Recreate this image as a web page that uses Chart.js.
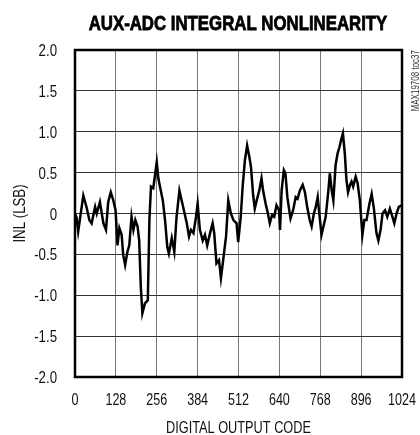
<!DOCTYPE html>
<html>
<head>
<meta charset="utf-8">
<script src="https://cdn.jsdelivr.net/npm/chart.js@4.4.1/dist/chart.umd.min.js"></script>
<style>
  body { margin: 0; background: #fff; }
  #wrap { width: 420px; height: 435px; }
</style>
</head>
<body>
<div id="wrap"><canvas id="grafico" width="420" height="435"></canvas></div>
<script>
// valores (codigo digital -> INL em LSB)
const codigos = [0, 5, 10, 26, 36, 45, 52, 63, 68, 78, 83, 89, 97, 104, 112, 120, 127, 133, 139, 146, 151, 157,
  164, 170, 177, 183, 189, 196, 201, 206, 211, 219, 228, 233, 238, 245, 250, 256, 261, 266, 275, 282, 289,
  294, 303, 311, 318, 327, 334, 341, 350, 357, 363, 371, 379, 384, 391, 400, 407, 414, 423, 431, 436, 443,
  451, 457, 464, 473, 480, 488, 496, 506, 511, 519, 525, 532, 539, 546, 551, 558, 563, 569, 577, 584, 589,
  597, 603, 610, 617, 624, 631, 639, 642, 647, 654, 659, 665, 671, 675, 683, 691, 697, 704, 713, 720, 728,
  735, 741, 748, 754, 760, 765, 772, 778, 785, 793, 798, 804, 809, 816, 822, 828, 834, 839, 845, 850, 855,
  861, 866, 871, 879, 885, 892, 900, 906, 913, 922, 929, 936, 944, 950, 957, 963, 971, 978, 986, 994, 1000,
  1007, 1014, 1023];
const inl = [0.0, -0.05, -0.22, 0.22, 0.08, -0.08, -0.12, 0.08, 0.0, 0.14, 0.02, -0.12, -0.2, 0.14, 0.26, 0.16,
  0.04, -0.39, -0.18, -0.26, -0.51, -0.63, -0.47, -0.39, -0.04, -0.2, -0.08, -0.16, -0.33, -0.89, -1.22,
  -1.1, -1.06, -0.08, 0.33, 0.31, 0.45, 0.63, 0.43, 0.33, 0.16, -0.08, -0.41, -0.49, -0.3, -0.47, -0.04,
  0.28, 0.16, 0.04, -0.12, -0.28, -0.2, -0.24, -0.04, 0.12, -0.2, -0.33, -0.26, -0.39, -0.24, -0.12,
  -0.24, -0.61, -0.57, -0.79, -0.57, -0.28, 0.16, 0.0, -0.08, -0.12, -0.35, -0.04, 0.33, 0.65, 0.83,
  0.69, 0.57, 0.22, 0.06, 0.16, 0.28, 0.43, 0.28, 0.12, 0.02, -0.12, -0.02, -0.04, 0.1, 0.04, -0.2,
  0.28, 0.53, 0.49, 0.2, 0.04, -0.06, 0.04, 0.2, 0.18, 0.28, 0.35, 0.26, 0.06, -0.08, -0.16, 0.0, 0.08,
  0.2, 0.0, -0.26, -0.16, -0.04, 0.26, 0.49, 0.28, 0.16, 0.59, 0.73, 0.81, 0.91, 0.98, 0.73, 0.41, 0.26,
  0.35, 0.39, 0.33, 0.45, 0.37, 0.16, -0.26, -0.08, -0.08, 0.12, 0.24, 0.06, -0.24, -0.33, -0.2, 0.0,
  0.04, -0.04, 0.06, -0.04, -0.12, 0.0, 0.08, 0.1];
const ticksX = [0, 128, 256, 384, 512, 640, 768, 896, 1024];
const ticksY = [-2, -1.5, -1, -0.5, 0, 0.5, 1, 1.5, 2];
const rotulosX = ['0', '128', '256', '384', '512', '640', '768', '896', '1024'];
const rotulosY = ['-2.0', '-1.5', '-1.0', '-0.5', '0', '0.5', '1.0', '1.5', '2.0'];

const fonte = "'Liberation Sans', Arial, sans-serif";

// texto "condensado" (escala horizontal), a fonte narrow nao existe aqui
function textoEstreito(ctx, txt, x, y, font, sx, align, contorno) {
    ctx.save();
    ctx.font = font;
    ctx.textAlign = align;
    ctx.translate(x, y);
    ctx.scale(sx, 1);
    ctx.fillText(txt, 0, 0);
    if (contorno) {
        ctx.strokeStyle = ctx.fillStyle;
        ctx.lineWidth = contorno;
        ctx.strokeText(txt, 0, 0);
    }
    ctx.restore();
}

const textosPlugin = {
    id: 'textosPlugin',
    afterDraw: (chart) => {
        const { ctx, chartArea: { top, bottom, left, right }, scales: { x, y } } = chart;
        ctx.save();
        ctx.fillStyle = '#111';
        ctx.textBaseline = 'alphabetic';

        // titulo
        ctx.fillStyle = '#000';
        textoEstreito(ctx, 'AUX-ADC INTEGRAL NONLINEARITY', 238, 30, 'bold 21px ' + fonte, 0.8, 'center', 0.8);
        ctx.fillStyle = '#111';

        // rotulos dos eixos, posicionados pelas escalas
        ticksX.forEach((v, i) => {
            textoEstreito(ctx, rotulosX[i], x.getPixelForValue(v), bottom + 28, '17px ' + fonte, 0.74, 'center');
        });
        ticksY.forEach((v, i) => {
            textoEstreito(ctx, rotulosY[i], left - 18, y.getPixelForValue(v) + 6, '17px ' + fonte, 0.78, 'right');
        });

        textoEstreito(ctx, 'DIGITAL OUTPUT CODE', (left + right) / 2, 433, '17px ' + fonte, 0.75, 'center');

        ctx.save();
        ctx.translate(25, (top + bottom) / 2);
        ctx.rotate(-Math.PI / 2);
        textoEstreito(ctx, 'INL (LSB)', 0, 0, '17px ' + fonte, 0.78, 'center');
        ctx.restore();

        // texto lateral
        ctx.save();
        ctx.translate(right + 17, top);
        ctx.rotate(-Math.PI / 2);
        ctx.fillStyle = '#333';
        textoEstreito(ctx, 'MAX19708 toc37', 0, 0, '10px ' + fonte, 0.8, 'right');
        ctx.restore();

        ctx.restore();
    }
};

const borderPlugin = {
    id: 'borderPlugin',
    afterDatasetsDraw: (chart) => {
        const { ctx, chartArea: { top, bottom, left, right } } = chart;
        ctx.save();
        ctx.strokeStyle = '#000';
        ctx.lineWidth = 2.5;
        ctx.strokeRect(left, top, right - left, bottom - top);
        ctx.restore();
    }
};

const config = {
    type: 'line',
    data: {
        datasets: [{
            label: 'INL',
            data: codigos.map((c, i) => ({ x: c, y: inl[i] })),
            borderColor: '#000',
            borderWidth: 2.5,
            pointRadius: 0,
            tension: 0,
            fill: false
        }]
    },
    options: {
        responsive: false,
        animation: false,
        events: [],
        layout: { padding: { left: 0, right: 18, top: 50, bottom: 0 } },
        plugins: { legend: { display: false }, tooltip: { enabled: false } },
        scales: {
            x: {
                type: 'linear',
                min: 0, max: 1024,
                afterBuildTicks: (s) => { s.ticks = ticksX.map(v => ({ value: v })); },
                afterFit: (s) => { s.height = 58; },
                grid: { color: '#777', lineWidth: 1, drawTicks: false },
                border: { display: false },
                ticks: { display: false }
            },
            y: {
                min: -2, max: 2,
                afterBuildTicks: (s) => { s.ticks = ticksY.map(v => ({ value: v })); },
                afterFit: (s) => { s.width = 75; },
                grid: { color: '#333', lineWidth: 1, drawTicks: false },
                border: { display: false },
                ticks: { display: false }
            }
        }
    },
    plugins: [textosPlugin, borderPlugin]
};

const meuGrafico = new Chart('grafico', config);
</script>
</body>
</html>
